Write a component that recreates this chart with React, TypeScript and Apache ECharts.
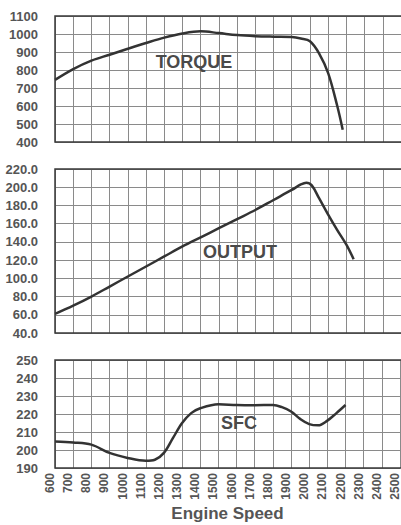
import React, { useEffect, useRef } from "react";
import * as echarts from "echarts";

const rpmTicksMin = 600;
const rpmTicksMax = 2500;

const torqueRpm = [600, 700, 800, 900, 1000, 1100, 1200, 1300, 1400, 1500, 1600, 1700, 1800, 1900, 1950, 2000, 2050, 2100, 2150, 2180];
const torque = [745, 805, 852, 885, 918, 950, 980, 1003, 1015, 1005, 994, 988, 985, 983, 975, 960, 893, 783, 600, 468];

const outputRpm = [600, 700, 800, 900, 1000, 1100, 1200, 1300, 1400, 1500, 1600, 1700, 1800, 1900, 1950, 1980, 2010, 2050, 2100, 2150, 2200, 2240];
const output = [61, 70, 80, 91, 102, 113, 124, 135, 145, 155, 165, 175, 186, 197, 203, 205, 202, 188, 170, 153, 137, 121];

const sfcRpm = [600, 700, 800, 900, 1000, 1100, 1150, 1200, 1250, 1300, 1350, 1400, 1500, 1600, 1700, 1800, 1850, 1900, 1950, 2000, 2050, 2100, 2150, 2200];
const sfc = [204.7, 204.2, 203, 198.4, 195.6, 194, 194.6, 198.4, 206.7, 215, 220.5, 223.2, 225.4, 225, 224.9, 225, 223.8, 221.4, 217.3, 214.4, 213.7, 216.3, 220.5, 225];

const panelTitles = ["TORQUE", "OUTPUT", "SFC"];
const xTitle = "Engine Speed";

const FONT = "'Liberation Sans', Arial, sans-serif";
const LABEL_COLOR = "#555";
const GRID_COLOR = "#8a8a8a";
const BORDER_COLOR = "#3a3a3a";
const LINE_COLOR = "#333";

const grids = [
  { left: 55, top: 16, width: 348, height: 126 },
  { left: 55, top: 169, width: 348, height: 164 },
  { left: 55, top: 360, width: 348, height: 108 },
];

const titlePos = [
  { x: 194, y: 62 },
  { x: 240, y: 252 },
  { x: 239, y: 423 },
];

function zip(xs: number[], ys: number[]) {
  return xs.map((x, i) => [x, ys[i]]);
}

export default function App() {
  const ref = useRef<HTMLDivElement>(null);
  useEffect(() => {
    document.body.style.margin = "0";
    if (!ref.current) return;
    const chart = echarts.init(ref.current, null, { renderer: "svg" });

    const xAxes = grids.map((_, i) => ({
      type: "value",
      gridIndex: i,
      min: rpmTicksMin,
      max: rpmTicksMax,
      interval: 100,
      axisLine: { show: false },
      axisTick: { show: false },
      splitLine: { show: true, lineStyle: { color: GRID_COLOR, width: 1 } },
      axisLabel:
        i === 2
          ? {
              show: true,
              rotate: 90,
              fontSize: 12,
              fontWeight: "bold",
              color: LABEL_COLOR,
              fontFamily: FONT,
              margin: 5,
              verticalAlign: "bottom",
              lineHeight: 10,
              formatter: (v: number) => String(v),
              showMaxLabel: true,
              showMinLabel: true,
            }
          : { show: false },
      name: i === 2 ? xTitle : "",
      nameLocation: "middle",
      nameGap: 37,
      nameTextStyle: { fontSize: 17, fontWeight: "bold", color: LABEL_COLOR, fontFamily: FONT },
    }));

    const yDefs = [
      { min: 400, max: 1100, interval: 100, fmt: (v: number) => String(v) },
      { min: 40, max: 220, interval: 20, fmt: (v: number) => v.toFixed(1) },
      { min: 190, max: 250, interval: 10, fmt: (v: number) => String(v) },
    ];

    const yAxes = yDefs.map((d, i) => ({
      type: "value",
      gridIndex: i,
      min: d.min,
      max: d.max,
      interval: d.interval,
      axisLine: { show: false },
      axisTick: { show: false },
      splitLine: { show: true, lineStyle: { color: GRID_COLOR, width: 1 } },
      axisLabel: {
        show: true,
        margin: 17,
        fontSize: 13,
        fontWeight: "bold",
        color: LABEL_COLOR,
        fontFamily: FONT,
        formatter: d.fmt,
      },
    }));

    const datasets = [zip(torqueRpm, torque), zip(outputRpm, output), zip(sfcRpm, sfc)];

    const series = datasets.map((data, i) => ({
      type: "line",
      xAxisIndex: i,
      yAxisIndex: i,
      data,
      smooth: 0.35,
      showSymbol: false,
      lineStyle: { color: LINE_COLOR, width: 2.5 },
      silent: true,
    }));

    const graphics: any[] = [];
    grids.forEach((g) => {
      graphics.push({
        type: "rect",
        z: 100,
        shape: { x: g.left, y: g.top, width: g.width, height: g.height },
        style: { fill: "none", stroke: BORDER_COLOR, lineWidth: 1.5 },
        silent: true,
      });
    });
    panelTitles.forEach((t, i) => {
      graphics.push({
        type: "text",
        z: 101,
        x: titlePos[i].x,
        y: titlePos[i].y,
        style: {
          text: t,
          fontSize: 18,
          fontWeight: "bold",
          fontFamily: FONT,
          fill: "#4a4a4a",
          textAlign: "center",
          textVerticalAlign: "middle",
        },
      });
    });

    chart.setOption({
      animation: false,
      backgroundColor: "#ffffff",
      grid: grids.map((g) => ({ ...g, containLabel: false })),
      xAxis: xAxes,
      yAxis: yAxes,
      series,
      graphic: graphics,
    });
    return () => chart.dispose();
  }, []);
  return <div ref={ref} style={{ width: 401, height: 525 }} />;
}
